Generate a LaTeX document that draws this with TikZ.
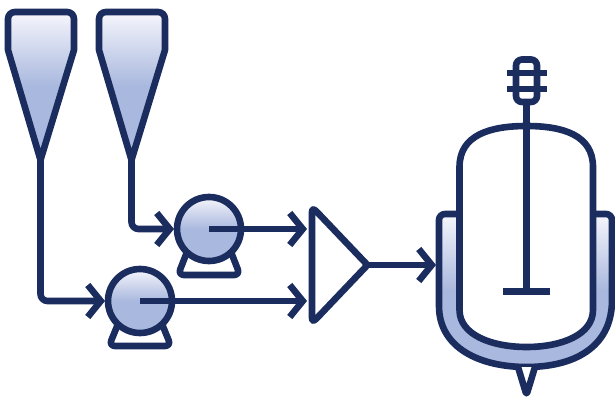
\documentclass[tikz,border=0pt]{standalone}
\usetikzlibrary{arrows.meta}
\definecolor{navy}{HTML}{1B2D5E}
\definecolor{gradtop}{HTML}{F6F6FC}
\definecolor{gradlow}{HTML}{A9B8DE}
\tikzset{
  ink/.style={draw=navy,line width=6.6pt},
  gradfill/.style={top color=gradtop,bottom color=gradlow,middle color=gradlow},
  flow/.style={ink,-{Straight Barb[length=13pt,width=32pt,line width=6.6pt]}},
  plain/.style={ink,line cap=butt},
  pumpbody/.style={circle,ink,gradfill,minimum size=64pt,inner sep=0pt,outer sep=3pt},
}
\begin{document}
\begin{tikzpicture}[x=1pt,y=-1pt,line join=round]
\useasboundingbox (0,0) rectangle (615,398);
% hoppers
\path[ink,gradfill] (15,12) -- (67,12) .. controls (71,12) and (74,15) .. (74,19) -- (74,50) -- (40.5,160) -- (8,50) -- (8,19) .. controls (8,15) and (11,12) .. (15,12) -- cycle;
\path[ink,gradfill] (106,12) -- (158,12) .. controls (162,12) and (165,15) .. (165,19) -- (165,50) -- (131.5,160) -- (99,50) -- (99,19) .. controls (99,15) and (102,12) .. (106,12) -- cycle;
\coordinate (h1) at (40.5,158);
\coordinate (h2) at (131.5,158);
% pump bases
\draw[ink,rounded corners=6pt] (187,252) -- (178,275) -- (240,275) -- (231,252);
\draw[ink,rounded corners=6pt] (118,324) -- (109,346) -- (171,346) -- (162,324);
% pumps
\node[pumpbody] (p1) at (209,229) {};
\node[pumpbody] (p2) at (140,301) {};
% mixer triangle
\draw[ink,fill=white] (367.5,265) -- (317,212) .. controls (314.5,209.5) and (312,207.5) .. (312,212) -- (312,318) .. controls (312,322.5) and (314.5,320.5) .. (317,318) -- cycle;
\coordinate (m1) at (307,229);
\coordinate (m2) at (307,301);
\coordinate (mout) at (367,265);
% jacket
\path[ink,gradfill,rounded corners=6pt] (459.5,214) -- (439,214) -- (439,300) [sharp corners] .. controls (439,348) and (480,367) .. (526.5,367) .. controls (573,367) and (612,348) .. (612,300) [rounded corners=6pt] -- (612,214) -- (593,214);
\coordinate (jin) at (436,265);
% nozzle
\draw[ink,fill=white,rounded corners=3pt] (518,367) -- (526.5,395) -- (535,367);
% vessel
\draw[ink,fill=white] (459.5,310) -- (459.5,167) .. controls (459.5,135) and (490,126) .. (526.5,126) .. controls (563,126) and (593,135) .. (593,167) -- (593,310) .. controls (593,335) and (561,347) .. (526.5,347) .. controls (492,347) and (459.5,335) .. (459.5,310) -- cycle;
% agitator
\draw[plain] (526.5,100) -- (526.5,291);
\draw[plain,line width=7pt] (503,291) -- (550,291);
\draw[ink,rounded corners=6pt] (516,59.5) rectangle (537,102);
\draw[plain] (507,73) -- (547,73);
\draw[plain] (507,89) -- (547,89);
% connectors
\draw[flow,rounded corners=7pt] (h2) |- (p1.west);
\draw[flow,rounded corners=7pt] (h1) |- (p2.west);
\draw[flow] (p1.center) -- (m1);
\draw[flow] (p2.center) -- (m2);
\draw[flow] (mout) -- (jin);
\end{tikzpicture}
\end{document}
